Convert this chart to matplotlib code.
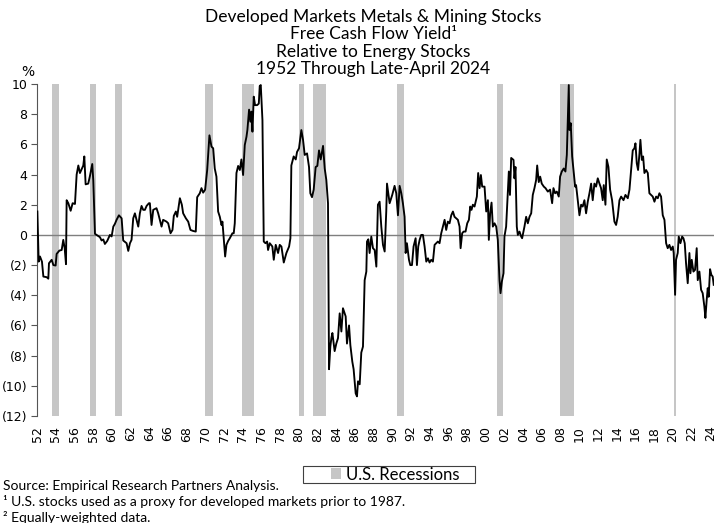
import matplotlib
matplotlib.use("Agg")
import matplotlib.pyplot as plt
from matplotlib.patches import Patch, Rectangle
from matplotlib.ticker import FuncFormatter, MultipleLocator

# ---- data ----
years = [
    1952.04, 1952.18, 1952.32, 1952.53, 1952.68, 1953.03, 1953.21, 1953.28, 1953.57, 1953.75,
    1953.99, 1954.10, 1954.39, 1954.64, 1954.81, 1954.96, 1955.10, 1955.17, 1955.35, 1955.60,
    1955.81, 1956.06, 1956.24, 1956.42, 1956.59, 1956.77, 1956.95, 1957.06, 1957.20, 1957.48,
    1957.66, 1957.91, 1958.02, 1958.20, 1958.37, 1958.73, 1958.91, 1959.09, 1959.26, 1959.51,
    1959.80, 1959.98, 1960.16, 1960.33, 1960.51, 1960.76, 1961.05, 1961.22, 1961.58, 1961.76,
    1961.94, 1962.11, 1962.29, 1962.47, 1962.65, 1962.83, 1963.00, 1963.18, 1963.36, 1963.54,
    1963.72, 1963.97,
    1964.07, 1964.25, 1964.43, 1964.78, 1964.96, 1965.32, 1965.49, 1965.85, 1966.03, 1966.28,
    1966.49, 1966.63, 1966.85, 1966.99, 1967.28, 1967.49, 1967.63, 1967.92, 1968.17, 1968.41,
    1968.70, 1968.98, 1969.13, 1969.41, 1969.59, 1969.77, 1969.98, 1970.20, 1970.44, 1970.66,
    1970.84, 1971.01, 1971.19, 1971.37, 1971.55, 1971.73, 1971.83, 1971.98, 1972.12, 1972.26,
    1972.44, 1972.62, 1972.90, 1973.04, 1973.15, 1973.33, 1973.51, 1973.69, 1973.86, 1974.04,
    1974.22, 1974.40, 1974.50, 1974.68, 1974.82, 1974.93, 1975.04, 1975.18, 1975.32, 1975.54,
    1975.72, 1975.82, 1975.93, 1976.11, 1976.25, 1976.43, 1976.61, 1976.71,
    1976.89, 1977.17, 1977.32, 1977.53, 1977.78, 1977.96, 1978.14, 1978.39, 1978.67, 1978.96,
    1979.10, 1979.20, 1979.45, 1979.67, 1979.81, 1980.02, 1980.27, 1980.45, 1980.63, 1980.88,
    1981.09, 1981.23, 1981.41, 1981.59, 1981.80, 1981.98, 1982.16, 1982.34, 1982.59, 1982.77,
    1982.94, 1983.12, 1983.23, 1983.37, 1983.48, 1983.59, 1983.83, 1984.01, 1984.19, 1984.37,
    1984.55, 1984.72, 1985.01, 1985.15, 1985.37, 1985.51, 1985.72, 1985.86, 1986.08, 1986.22,
    1986.33, 1986.51, 1986.68, 1986.86, 1987.04, 1987.22, 1987.29, 1987.43, 1987.57, 1987.75,
    1987.93, 1988.11, 1988.29, 1988.46, 1988.64, 1988.82, 1989.00, 1989.18, 1989.35, 1989.43,
    1989.71, 1989.99, 1990.24, 1990.42, 1990.60, 1990.78, 1990.96, 1991.13, 1991.31, 1991.42,
    1991.56, 1991.78, 1991.92, 1992.10, 1992.27, 1992.49, 1992.63, 1992.77, 1992.92, 1993.09,
    1993.27, 1993.45, 1993.63, 1993.81, 1993.98, 1994.16, 1994.34, 1994.52, 1994.70, 1994.87,
    1995.05, 1995.23, 1995.41, 1995.59, 1995.76, 1995.94, 1996.12, 1996.30, 1996.48, 1996.65,
    1996.83, 1997.01, 1997.19, 1997.30, 1997.47, 1997.62, 1997.83, 1998.01, 1998.19, 1998.33,
    1998.47, 1998.61, 1998.79, 1999.04, 1999.18, 1999.33, 1999.47, 1999.61, 1999.86, 2000.04,
    2000.22, 2000.32, 2000.46, 2000.61, 2000.75, 2000.93, 2001.11, 2001.28, 2001.46, 2001.57,
    2001.71, 2001.89, 2001.99, 2002.17, 2002.35, 2002.46, 2002.58,
    2002.71, 2002.96, 2003.06, 2003.17, 2003.31, 2003.42, 2003.60, 2003.78, 2003.88, 2004.13,
    2004.31, 2004.49, 2004.67, 2004.85, 2005.02, 2005.20, 2005.38, 2005.49, 2005.66, 2005.81,
    2005.98, 2006.20, 2006.38, 2006.63, 2006.87, 2007.09, 2007.23, 2007.41, 2007.59, 2007.80,
    2007.94, 2008.12, 2008.33, 2008.51, 2008.66, 2008.76, 2008.87, 2008.94, 2009.08, 2009.23,
    2009.37, 2009.55, 2009.65, 2009.83, 2010.01, 2010.19, 2010.36, 2010.54, 2010.72, 2010.90,
    2011.08, 2011.26, 2011.43, 2011.61, 2011.79, 2011.97, 2012.15, 2012.32, 2012.50, 2012.61,
    2012.79, 2012.93, 2013.11, 2013.29, 2013.50, 2013.75, 2013.93, 2014.10,
    2014.29, 2014.47, 2014.72, 2014.93, 2015.18, 2015.36, 2015.54, 2015.71, 2015.89, 2016.00,
    2016.14, 2016.28, 2016.43, 2016.53, 2016.68, 2016.82, 2016.96, 2017.14, 2017.32, 2017.49,
    2017.67, 2017.85, 2018.03, 2018.21, 2018.39, 2018.56, 2018.74, 2018.92, 2019.10, 2019.28,
    2019.45, 2019.63, 2019.81, 2019.99, 2020.09, 2020.24, 2020.34, 2020.52, 2020.63, 2020.81,
    2020.99, 2021.13, 2021.27, 2021.41, 2021.59, 2021.77, 2021.88, 2022.02, 2022.20, 2022.37,
    2022.55, 2022.66, 2022.84, 2023.02, 2023.19, 2023.37, 2023.48, 2023.62, 2023.73, 2023.83,
    2023.98, 2024.12, 2024.26, 2024.37,
]
fcf_yield_rel = [
    1.55, -1.77, -1.43, -1.77, -2.76, -2.80, -2.90, -1.88, -1.65, -2.00,
    -2.03, -1.26, -1.04, -1.00, -0.33, -0.88, -1.94, 2.30, 2.10, 1.60,
    2.10, 2.05, 4.00, 4.60, 4.10, 4.35, 4.60, 5.20, 3.35, 3.40,
    3.90, 4.70, 3.60, 0.07, 0.00, -0.15, -0.37, -0.30, -0.60, -0.40,
    0.00, -0.10, 0.55, 0.73, 1.00, 1.30, 1.10, -0.37, -0.55, -1.06,
    -0.55, -0.33, 1.10, 1.43, 1.00, 0.55, 1.43, 1.92, 1.66, 1.66,
    1.92, 2.10,
    2.10, 0.66, 1.66, 1.77, 1.43, 0.55, 1.00, 0.88, 0.77, 0.11,
    0.33, 1.26, 1.55, 1.20, 2.43, 2.00, 1.43, 1.10, 0.88, 0.33,
    0.26, 0.22, 2.50, 2.76, 3.10, 2.80, 3.00, 4.30, 6.60, 5.85,
    5.74, 4.40, 3.86, 1.55, 1.20, 0.66, 0.88, -0.33, -1.43, -0.66,
    -0.40, -0.22, 0.11, 0.11, 0.77, 4.10, 4.57, 4.30, 5.00, 3.97,
    5.96, 6.50, 6.95, 8.30, 7.50, 8.17, 6.84, 9.16, 8.60, 8.60,
    8.70, 9.87, 9.93, 7.60, -0.44, -0.55, -0.44, -1.00,
    -0.55, -0.77, -1.65, -0.66, -1.20, -0.66, -0.77, -1.83, -1.20, -0.77,
    -0.22, 4.60, 5.20, 5.00, 5.50, 5.74, 6.95, 6.30, 5.30, 5.40,
    4.50, 2.76, 2.50, 3.00, 4.50, 4.57, 5.60, 5.00, 5.90, 4.40,
    3.64, 2.10, -8.90, -7.40, -6.84, -6.50, -7.70, -7.20, -6.84, -5.20,
    -6.40, -4.86, -5.40, -7.20, -6.00, -7.30, -8.40, -8.90, -10.50, -10.70,
    -9.70, -9.90, -7.80, -7.40, -3.00, -2.43, -0.44, -0.29, -1.20, -0.11,
    -0.88, -1.00, -2.10, 2.00, 2.20, 0.55, -0.66, -1.10, 1.55, 3.40,
    2.10, 2.65, 3.25, 2.76, 1.30, 3.25, 2.76, 2.10, 1.20, -1.20,
    -0.55, -1.65, -2.00, -2.00, -0.77, -0.22, -2.00, -0.77, -0.33, 0.00,
    0.00, -0.77, -1.77, -1.55, -1.83, -1.65, -1.77, -0.66, -0.55, -0.44,
    -0.55, 0.11, 0.55, 1.00, 0.33, 0.88, 0.77, 1.30, 1.55, 1.20,
    1.10, 1.00, 0.55, -0.88, 0.11, 0.22, 0.22, 0.77, 1.00, 1.88,
    1.66, 2.00, 1.88, 2.54, 4.10, 3.10, 3.97, 3.20, 3.20, 1.55,
    2.30, -0.33, 1.43, 2.14, 0.55, 0.77, 0.55, -0.33, -3.00, -3.86,
    -3.10, -2.54, -0.11, 0.55, 2.76, 4.20, 2.65,
    5.10, 4.97, 3.75, 4.50, 0.55, 0.00, 0.22, -0.11, -0.22, 0.55,
    1.20, 0.77, 1.20, 1.43, 2.65, 3.10, 3.64, 4.60, 3.50, 3.86,
    3.40, 3.20, 3.10, 2.87, 3.00, 2.10, 3.10, 2.76, 2.87, 2.54,
    3.86, 4.20, 4.40, 4.20, 5.30, 7.60, 9.93, 6.95, 7.40, 5.20,
    4.30, 3.20, 3.30, 2.30, 1.30, 2.00, 1.88, 2.30, 1.43, 2.20,
    2.76, 3.40, 2.30, 3.40, 3.20, 3.75, 3.40, 3.10, 2.30, 3.30,
    2.00, 5.00, 4.50, 3.00, 2.30, 0.88, 0.66, 1.20,
    2.30, 2.54, 2.30, 2.65, 2.43, 3.00, 4.30, 5.60, 5.74, 6.07,
    4.75, 4.30, 5.40, 6.30, 4.97, 5.20, 4.10, 4.30, 4.10, 2.76,
    2.65, 2.54, 2.20, 2.54, 2.43, 2.76, 2.54, 1.30, 1.00, -0.55,
    -0.88, -0.66, -1.00, -0.77, -1.20, -3.97, -1.65, -1.20, -0.11, -0.55,
    -0.11, -0.22, -0.55, -1.88, -3.20, -1.20, -2.54, -1.65, -2.43, -2.32,
    -0.88, -3.00, -2.43, -3.64, -3.86, -4.75, -5.50, -4.30, -3.53, -4.10,
    -2.27, -2.65, -2.76, -3.31,
]
recession_start = [1953.58, 1957.62, 1960.29, 1969.96, 1973.87, 1980.04, 1981.54, 1990.54, 2001.21, 2007.96, 2020.10]
recession_end   = [1954.37, 1958.29, 1961.12, 1970.87, 1975.21, 1980.54, 1982.87, 1991.21, 2001.87, 2009.46, 2020.32]
year_ticks = list(range(1952, 2025, 2))
year_labels = [f"{y % 100:02d}" for y in year_ticks]

title_lines = ["Developed Markets Metals & Mining Stocks",
               "Free Cash Flow Yield\u00b9",
               "Relative to Energy Stocks",
               "1952 Through Late-April 2024"]
footnotes = ["Source: Empirical Research Partners Analysis.",
             "\u00b9 U.S. stocks used as a proxy for developed markets prior to 1987.",
             "\u00b2 Equally-weighted data."]

# ---- figure ----
hum = ['Lato', 'DejaVu Sans']
fig = plt.figure(figsize=(7.2, 5.23), dpi=100)
ax = fig.add_axes([37/720, 1-416/523, (714-37)/720, (416-84)/523])

for s, e in zip(recession_start, recession_end):
    ax.axvspan(s, e, color='#c6c6c6', lw=0, zorder=1)

ax.axhline(0, color='#7f7f7f', lw=1.0, zorder=2)
ax.plot(years, fcf_yield_rel, color='black', lw=1.35, zorder=3)

ax.set_xlim(1952, 2024.4)
ax.set_ylim(-12, 10)
ax.yaxis.set_major_locator(MultipleLocator(2))
ax.yaxis.set_major_formatter(FuncFormatter(lambda v, p: f"({abs(v):.0f})" if v < 0 else f"{v:.0f}"))
ax.set_xticks(year_ticks)
ax.set_xticklabels(year_labels, rotation=90, fontsize=9, family='DejaVu Sans')
ax.tick_params(axis='x', length=0, pad=7)
ax.tick_params(axis='y', length=4, width=0.8, color='#555555', labelsize=9, pad=3)
for sp in ['top', 'right', 'bottom']:
    ax.spines[sp].set_visible(False)
ax.spines['left'].set_color('#555555')
ax.spines['left'].set_linewidth(0.8)

fig.text(28/720, 1-72/523, "%", ha='center', va='center', fontsize=10, family='DejaVu Sans')

for i, line in enumerate(title_lines):
    fig.text(373/720, 1-(17+17.4*i)/523, line, ha='center', va='center', fontsize=12.5, family=hum)

for i, line in enumerate(footnotes):
    fig.text(3/720, 1-(486+15.5*i)/523, line, ha='left', va='center', fontsize=10, family=hum)

# legend box
fig.patches.append(Rectangle((303/720, 1-483/523), (475-303)/720, 17/523, transform=fig.transFigure,
                             facecolor='white', edgecolor='#404040', lw=0.8, zorder=0))
leg = fig.legend(handles=[Patch(facecolor='#c6c6c6', edgecolor='none', label='U.S. Recessions')],
                 loc='center', bbox_to_anchor=(395/720, 1-474.5/523), frameon=False,
                 prop={'family': hum, 'size': 12}, handlelength=0.6, handleheight=0.6,
                 handletextpad=0.3, borderpad=0, borderaxespad=0)

fig.savefig("out.png", dpi=100)
